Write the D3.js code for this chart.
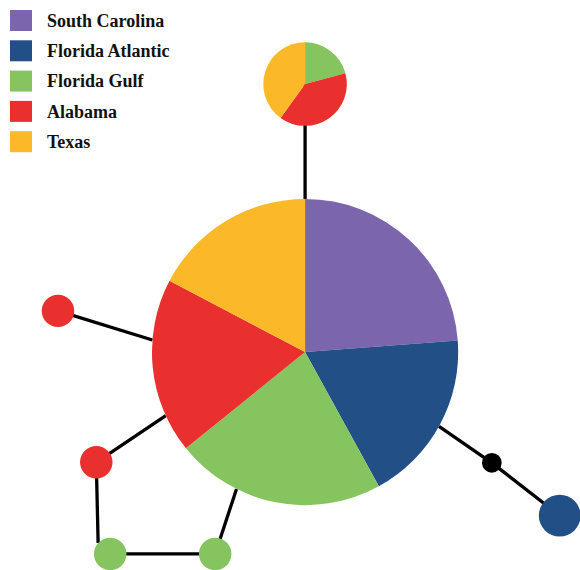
<!DOCTYPE html>
<html>
<head>
<meta charset="utf-8">
<script src="https://cdn.jsdelivr.net/npm/d3@7"></script>
<style>
  html, body { margin: 0; padding: 0; background: #fff; }
  svg { display: block; }
</style>
</head>
<body>
<svg id="chart" width="580" height="570"></svg>
<script>
// Regions (legend categories) and colours
const regions = ["South Carolina", "Florida Atlantic", "Florida Gulf", "Alabama", "Texas"];
const regionColors = ["#7b66ae", "#224f86", "#86c45f", "#e9302f", "#fbb92a"];

// Haplotype nodes: layout coordinates (abstract units 0-100), size units, composition per region
const nodeIds   = ["H1", "H2", "H3", "H4", "H5", "H6", "mv", "H7"];
const nodeX     = [52.6, 52.6, 10.0, 16.6, 19.0, 37.1, 84.8, 96.5];
const nodeY     = [60.7, 14.5, 53.6, 79.7, 95.5, 95.5, 79.8, 88.9];
const nodeSize  = [26.4, 7.2, 2.8, 2.8, 2.8, 2.8, 1.7, 3.6];
const nodeComp  = [
  [23.8, 18.2, 22.2, 18.5, 17.3],  // H1 main haplotype
  [0, 0, 20.8, 39.2, 40.0],        // H2
  [0, 0, 0, 1, 0],                 // H3 Alabama
  [0, 0, 0, 1, 0],                 // H4 Alabama
  [0, 0, 1, 0, 0],                 // H5 Florida Gulf
  [0, 0, 1, 0, 0],                 // H6 Florida Gulf
  [0, 0, 0, 0, 0],                 // median vector
  [0, 1, 0, 0, 0]                  // H7 Florida Atlantic
];

// Edges: source, target, attachment angle (deg, clockwise from top) on target rim (null = centre)
const edgeSource      = ["H2", "H3", "H4", "H4", "H5", "H6", "mv", "mv"];
const edgeTarget      = ["H1", "H1", "H1", "H5", "H6", "H1", "H1", "H7"];
const edgeTargetAngle = [0, 274.5, 245.5, 312, null, 206.6, 119, null];

const svg = d3.select("#chart");
const s = d3.scaleLinear().domain([0, 100]).range([0, 580]);

const nodes = nodeIds.map((id, i) => ({
  id, x: s(nodeX[i]), y: s(nodeY[i]), r: s(nodeSize[i]), comp: nodeComp[i]
}));
const byId = new Map(nodes.map(n => [n.id, n]));

function rimPoint(n, ang) {
  if (ang === null) return [n.x, n.y];
  const a = ang * Math.PI / 180;
  return [n.x + n.r * Math.sin(a), n.y - n.r * Math.cos(a)];
}

const edges = edgeSource.map((src, i) => {
  const a = byId.get(src), b = byId.get(edgeTarget[i]);
  return { p1: [a.x, a.y], p2: rimPoint(b, edgeTargetAngle[i]) };
});

// Edges
svg.append("g").selectAll("line").data(edges).join("line")
  .attr("x1", d => d.p1[0]).attr("y1", d => d.p1[1])
  .attr("x2", d => d.p2[0]).attr("y2", d => d.p2[1])
  .attr("stroke", "#000").attr("stroke-width", 3.3);

// Nodes as pies
const pie = d3.pie().sort(null).value(d => d.v);
const nodeG = svg.append("g").selectAll("g").data(nodes).join("g")
  .attr("transform", d => `translate(${d.x},${d.y})`);

nodeG.each(function(n) {
  const g = d3.select(this);
  const total = d3.sum(n.comp);
  if (total === 0) {
    g.append("circle").attr("r", n.r).attr("fill", "#000");
    return;
  }
  const arc = d3.arc().innerRadius(0).outerRadius(n.r);
  const arcs = pie(n.comp.map((v, k) => ({ v, k }))).filter(d => d.data.v > 0);
  g.selectAll("path").data(arcs).join("path")
    .attr("d", arc)
    .attr("fill", d => regionColors[d.data.k]);
});

// Legend
const ly = d3.scaleLinear().domain([0, 4]).range([10, 131.2]);
const leg = svg.append("g").selectAll("g").data(regions).join("g")
  .attr("transform", (d, i) => `translate(10,${ly(i)})`);
leg.append("rect").attr("width", 22).attr("height", 21)
  .attr("fill", (d, i) => regionColors[i]);
leg.append("text").attr("x", 37).attr("y", 16.8)
  .attr("font-family", "'Liberation Serif', 'Times New Roman', serif")
  .attr("font-weight", "bold").attr("font-size", 18)
  .attr("fill", "#111")
  .text(d => d);
</script>
</body>
</html>
